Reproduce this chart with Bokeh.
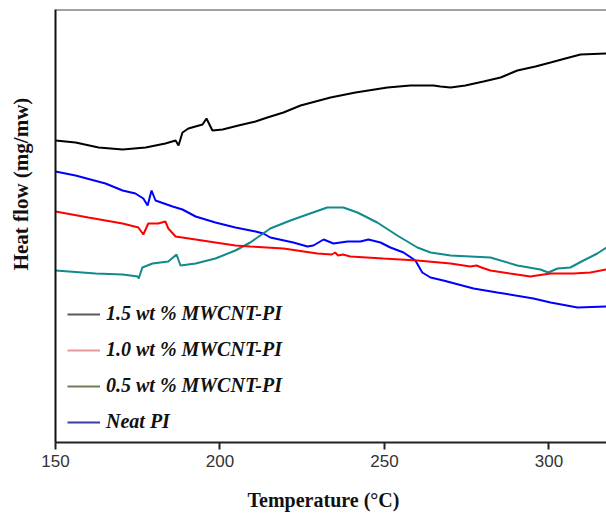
from bokeh.plotting import figure
from bokeh.models import Range1d, FixedTicker, Legend, LegendItem, Span
from bokeh.embed import file_html
from bokeh.resources import INLINE

# DSC traces: temperature (°C) and heat flow (arbitrary offset units)
t_15 = [150.0, 156.1, 163.1, 170.4, 177.4, 183.4, 186.5, 187.4, 188.6, 190.4, 194.7,
        195.9, 197.7, 200.8, 205.6, 210.8, 214.4, 219.3, 224.5, 233.6, 241.2, 250.9,
        257.9, 264.9, 267.0, 270.1, 274.6, 280.1, 285.3, 290.4, 295.9, 300.5, 305.0,
        309.6, 317.5]
hf_15 = [3.02, 3.00, 2.95, 2.93, 2.95, 2.99, 3.02, 2.97, 3.10, 3.14, 3.18,
         3.24, 3.12, 3.13, 3.17, 3.21, 3.25, 3.30, 3.37, 3.45, 3.50, 3.55,
         3.57, 3.57, 3.56, 3.55, 3.57, 3.61, 3.65, 3.72, 3.76, 3.80, 3.84,
         3.88, 3.89]

t_10 = [150.0, 160.0, 170.4, 175.2, 176.7, 178.2, 181.2, 183.4, 184.3, 186.5, 192.6,
        198.6, 204.7, 209.2, 219.3, 229.6, 234.0, 235.0, 235.9, 237.4, 239.6, 249.6,
        260.0, 270.1, 276.1, 278.0, 279.5, 282.2, 288.2, 294.3, 300.5, 307.5, 312.6,
        317.5]
hf_10 = [2.31, 2.25, 2.19, 2.15, 2.08, 2.19, 2.19, 2.21, 2.14, 2.06, 2.03,
         2.00, 1.97, 1.96, 1.94, 1.89, 1.88, 1.90, 1.87, 1.88, 1.86, 1.84,
         1.82, 1.79, 1.76, 1.77, 1.75, 1.72, 1.69, 1.66, 1.69, 1.69, 1.70,
         1.73]

t_05 = [150.0, 162.2, 170.4, 175.0, 175.3, 176.4, 179.5, 184.3, 186.8, 188.0, 192.6,
        198.6, 204.7, 209.2, 215.3, 221.4, 227.4, 232.6, 237.5, 241.8, 247.8, 253.9,
        260.0, 264.0, 270.1, 282.2, 290.4, 297.4, 299.8, 302.6, 306.5, 310.5, 314.7,
        317.5]
hf_05 = [1.72, 1.69, 1.68, 1.66, 1.64, 1.75, 1.79, 1.81, 1.88, 1.77, 1.79,
         1.84, 1.92, 2.00, 2.14, 2.22, 2.29, 2.35, 2.35, 2.30, 2.20, 2.07,
         1.95, 1.90, 1.87, 1.85, 1.77, 1.73, 1.70, 1.74, 1.75, 1.82, 1.89,
         1.95]

t_neat = [150.0, 156.1, 165.2, 170.4, 174.3, 176.7, 178.0, 179.2, 180.4, 185.6, 188.6,
          192.6, 198.6, 204.7, 210.8, 213.2, 215.3, 222.3, 226.6, 228.4, 231.5, 234.5,
          238.8, 242.7, 245.1, 248.8, 251.8, 255.8, 259.4, 261.5, 264.0, 267.9, 277.1,
          284.3, 295.3, 300.5, 308.7, 317.5]
hf_neat = [2.71, 2.67, 2.59, 2.52, 2.49, 2.44, 2.37, 2.52, 2.42, 2.36, 2.33,
           2.26, 2.20, 2.15, 2.11, 2.09, 2.05, 2.00, 1.96, 1.97, 2.03, 1.99,
           2.01, 2.01, 2.03, 2.00, 1.95, 1.90, 1.82, 1.70, 1.65, 1.62, 1.54,
           1.50, 1.44, 1.40, 1.35, 1.36]

labels = ["1.5 wt % MWCNT-PI", "1.0 wt % MWCNT-PI", "0.5 wt % MWCNT-PI", "Neat PI"]
line_colors = ["#000000", "#ff0000", "#108a8a", "#0000ff"]
key_colors = ["#5a5a5a", "#e49a9a", "#6e7d55", "#3a3aa8"]
x_ticks = [150, 200, 250, 300]

series = [(t_15, hf_15), (t_10, hf_10), (t_05, hf_05), (t_neat, hf_neat)]

NBSP = "\u00a0"

p = figure(frame_width=551, frame_height=433, output_backend="svg",
           toolbar_location=None, x_range=Range1d(150, 317.5),
           y_range=Range1d(0, 4.33), min_border_left=55, min_border_right=0,
           min_border_top=9, min_border_bottom=72)
p.outline_line_color = None
p.grid.visible = False
p.background_fill_color = "white"
p.border_fill_color = "white"

# draw the neat polymer first so the composites sit on top
for (tx, hy), c in reversed(list(zip(series, line_colors))):
    p.line(tx, hy, line_color=c, line_width=2)

# legend keys use softer stroke colours; their renderers hold no visible points
nan = float("nan")
items = []
for lab, kc in zip(labels, key_colors):
    r = p.line(x=[nan, nan], y=[nan, nan], line_color=kc, line_width=2)
    items.append(LegendItem(label=lab, renderers=[r]))
legend = Legend(items=items, location=(12, 9), padding=0, margin=0,
                spacing=13, glyph_width=33, glyph_height=20, label_height=20,
                label_standoff=6, border_line_color=None,
                background_fill_alpha=0,
                label_text_font="Liberation Serif", label_text_font_style="bold italic",
                label_text_font_size="20px", label_text_color="#111111")
p.add_layout(legend, "center")

xa = p.xaxis[0]
xa.ticker = FixedTicker(ticks=x_ticks)
xa.minor_tick_line_color = None
xa.major_tick_in = 0
xa.major_tick_out = 7
xa.major_tick_line_width = 2
xa.major_tick_line_color = "#222222"
xa.axis_line_width = 2
xa.axis_line_color = "#222222"
xa.major_label_text_font = "Liberation Sans"
xa.major_label_text_font_size = "17px"
xa.major_label_text_color = "#333333"
xa.major_label_standoff = 5
# trailing no-break spaces nudge the centred title slightly left
xa.axis_label = "Temperature (\u00b0C)" + NBSP * 3
xa.axis_label_text_font = "Liberation Serif"
xa.axis_label_text_font_style = "bold"
xa.axis_label_text_font_size = "20px"
xa.axis_label_text_color = "#111111"
xa.axis_label_standoff = 19

ya = p.yaxis[0]
ya.ticker = FixedTicker(ticks=[])
ya.major_tick_line_color = None
ya.major_tick_out = 0
ya.major_tick_in = 0
ya.minor_tick_line_color = None
ya.major_label_text_font_size = "0px"
ya.major_label_standoff = 0
ya.axis_line_width = 2
ya.axis_line_color = "#111111"
# leading no-break spaces lift the centred title towards the upper half
ya.axis_label = NBSP * 16 + "Heat flow (mg/mw)"
ya.axis_label_text_font = "Liberation Serif"
ya.axis_label_text_font_style = "bold"
ya.axis_label_text_font_size = "21px"
ya.axis_label_text_color = "#111111"
ya.axis_label_standoff = 23

# top frame edge
p.add_layout(Span(location=4.33, dimension="width", line_color="#444444",
                  line_width=2))

open("out.html", "w").write(file_html(p, INLINE))
